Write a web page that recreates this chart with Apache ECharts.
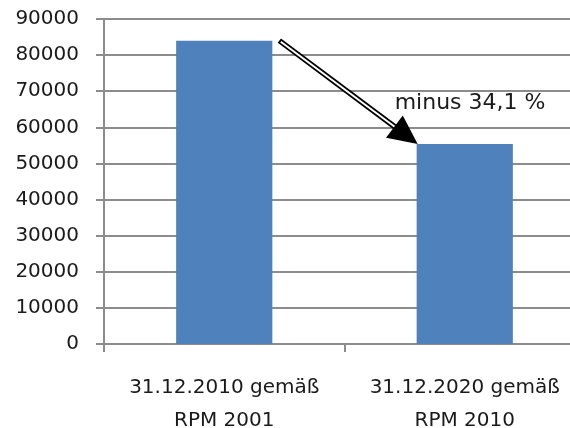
<!DOCTYPE html>
<html>
<head>
<meta charset="utf-8">
<script src="https://cdn.jsdelivr.net/npm/echarts@6/dist/echarts.min.js"></script>
<style>html,body{margin:0;padding:0;background:#fff;overflow:hidden;width:570px;height:428px}#c{width:586px;height:428px}</style>
</head>
<body>
<div id="c"></div>
<script>
const categories = ['31.12.2010 gemäß\nRPM 2001', '31.12.2020 gemäß\nRPM 2010'];
const values = [84000, 55400];
const annotation = 'minus 34,1 %';
const yTicks = { min: 0, max: 90000, interval: 10000 };

const chart = echarts.init(document.getElementById('c'), null, { renderer: 'canvas' });
const FONT = 'DejaVu Sans';
const grey = '#8c8c8c';
chart.setOption({
  animation: false,
  backgroundColor: '#fff',
  grid: { left: 104, top: 19, right: 1, bottom: 84, containLabel: false, outerBoundsMode: 'none' },
  xAxis: {
    type: 'category',
    data: categories,
    axisLine: { lineStyle: { color: grey, width: 2 } },
    axisTick: { show: true, length: 8, lineStyle: { color: grey, width: 2 } },
    axisLabel: { interval: 0, margin: 27, color: '#1a1a1a', fontFamily: FONT, fontSize: 20, lineHeight: 33 }
  },
  yAxis: {
    type: 'value',
    min: yTicks.min, max: yTicks.max, interval: yTicks.interval,
    axisLine: { show: true, lineStyle: { color: grey, width: 2 } },
    axisTick: { show: true, length: 8, lineStyle: { color: grey, width: 2 } },
    splitLine: { lineStyle: { color: grey, width: 2 } },
    axisLabel: { margin: 25, color: '#1a1a1a', fontFamily: FONT, fontSize: 20, formatter: v => String(v) }
  },
  series: [{
    type: 'bar',
    data: values,
    barWidth: '40%',
    itemStyle: { color: '#4f81bd' }
  }]
});

function drawArrow() {
  const p0 = chart.convertToPixel({ seriesIndex: 0 }, [0, values[0]]);
  const p1 = chart.convertToPixel({ seriesIndex: 0 }, [1, values[1]]);
  const cw = p1[0] - p0[0];
  const half = cw * 0.2;
  const sx = p0[0] + half + 7, sy = p0[1];
  const tx = p1[0] - half + 1, ty = p1[1];
  const ang = Math.atan2(ty - sy, tx - sx);
  const L = 29, W = 14;
  const bx = tx - L * Math.cos(ang), by = ty - L * Math.sin(ang);
  const nx = -Math.sin(ang), ny = Math.cos(ang);
  const ex = bx + 2 * Math.cos(ang), ey = by + 2 * Math.sin(ang);
  chart.setOption({
    graphic: [
      { type: 'line', z: 100, shape: { x1: sx, y1: sy, x2: ex, y2: ey }, style: { stroke: '#000', lineWidth: 5.5 } },
      { type: 'line', z: 101, shape: { x1: sx + 1.8 * Math.cos(ang), y1: sy + 1.8 * Math.sin(ang), x2: ex, y2: ey }, style: { stroke: '#fff', lineWidth: 2 } },
      { type: 'polygon', z: 102, shape: { points: [[tx, ty], [bx + nx * W, by + ny * W], [bx - nx * W, by - ny * W]] }, style: { fill: '#000' } },
      { type: 'text', z: 103, x: p1[0] - half - 22, y: p1[1] - 30, style: { text: annotation, font: '22px "DejaVu Sans"', fill: '#1a1a1a', verticalAlign: 'bottom' } }
    ]
  });
}
drawArrow();
</script>
</body>
</html>
